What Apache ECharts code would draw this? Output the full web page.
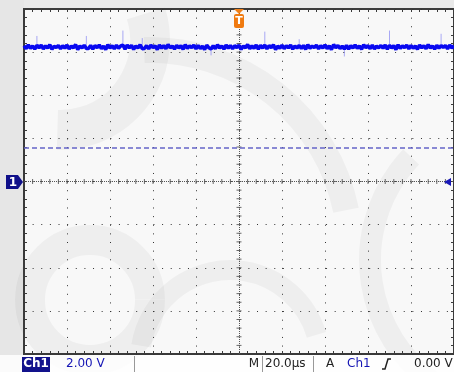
<!DOCTYPE html>
<html><head><meta charset="utf-8">
<script src="https://cdn.jsdelivr.net/npm/echarts@6/dist/echarts.min.js"></script>
<style>html,body{margin:0;padding:0;background:#f8f8f8;}#c{width:454px;height:372px;}</style>
</head><body><div id="c"></div>
<script>
// ---- data ----
const sampleStartUs = -100;
const sampleStepUs = 1;
const ch1Volts = [
6.30,6.16,6.33,6.18,6.28,6.14,6.32,6.20,6.32,6.15,
6.29,6.19,6.34,6.13,6.27,6.21,6.31,6.16,6.30,6.18,
6.33,6.15,6.28,6.20,6.35,6.12,6.29,6.19,6.32,6.17,
6.17,6.31,6.14,6.30,6.21,6.33,6.16,6.28,6.12,6.34,
6.19,6.30,6.15,6.32,6.18,6.29,6.33,6.14,6.33,6.20,
6.31,6.13,6.28,6.19,6.34,6.16,6.17,6.30,6.15,6.32,
6.21,6.29,6.12,6.33,6.18,6.31,6.16,6.35,6.20,6.28,
6.14,6.32,6.19,6.30,6.13,6.34,6.18,6.29,6.21,6.33,
6.15,6.31,6.17,6.28,6.12,6.32,6.20,6.14,6.30,6.16,
6.34,6.19,6.29,6.14,6.33,6.18,6.31,6.15,6.30,6.21,
6.32,6.13,6.28,6.20,6.35,6.16,6.29,6.18,6.33,6.14,
6.31,6.19,6.33,6.15,6.30,6.21,6.34,6.12,6.28,6.18,
6.32,6.16,6.30,6.20,6.33,6.14,6.29,6.19,6.31,6.17,
6.31,6.13,6.34,6.18,6.28,6.21,6.32,6.15,6.30,6.19,
6.33,6.16,6.29,6.12,6.35,6.20,6.31,6.17,6.28,6.14,
6.32,6.14,6.30,6.19,6.33,6.18,6.29,6.13,6.34,6.21,
6.30,6.16,6.32,6.15,6.28,6.20,6.31,6.18,6.33,6.14,
6.32,6.19,6.30,6.12,6.34,6.17,6.29,6.21,6.32,6.15,
6.31,6.18,6.28,6.13,6.33,6.20,6.30,6.16,6.35,6.19,
6.29,6.14,6.32,6.18,6.31,6.21,6.31,6.15,6.33,6.19,
6.30
];
// isolated glitches seen on the trace: time (µs) and peak volts
const glitchTimesUs = [-94, -71, -54, -45, -13, 12, 28, 49, 70, 94];
const glitchPeaksV  = [6.75, 6.75, 7.00, 6.65, 5.85, 6.95, 6.60, 5.80, 7.00, 6.85];
const timeRangeUs = [-100, 100];
const timePerDivUs = 20;
const voltRange = [-8, 8];
const voltsPerDiv = 2;
const cursorLevelV = 1.56;
const triggerLevelV = 0;
const statusTexts = ['Ch1', '2.00 V', 'M', '20.0µs', 'A', 'Ch1', '0.00 V'];

// ---- build ----
const trace = ch1Volts.map((v, i) => [sampleStartUs + i * sampleStepUs, v]);
const glitches = [];
glitchTimesUs.forEach((t, i) => {
  const base = ch1Volts[Math.round((t - sampleStartUs) / sampleStepUs)];
  glitches.push([t, base], [t, glitchPeaksV[i]], null);
});
const minorX = [], minorY = [];
for (let t = timeRangeUs[0]; t <= timeRangeUs[1] + 1e-9; t += timePerDivUs / 5) minorX.push([t, 0]);
for (let v = voltRange[0]; v <= voltRange[1] + 1e-9; v += voltsPerDiv / 5) minorY.push([0, v]);

const FONT = 'DejaVu Sans';
const gridDash = [1, 7.63];
function xAx(pos, split) {
  return {type:'value', min:timeRangeUs[0], max:timeRangeUs[1], interval:timePerDivUs, position:pos,
    axisLine:{show:false, onZero:false}, axisLabel:{show:false},
    axisTick:{show:true, inside:true, length:3, lineStyle:{color:'#3a3a3a'}},
    minorTick:{show:true, splitNumber:5, length:3, lineStyle:{color:'#3a3a3a'}},
    splitLine:{show:split, lineStyle:{color:'#333', width:1, type:gridDash}}};
}
function yAx(pos, split) {
  return {type:'value', min:voltRange[0], max:voltRange[1], interval:voltsPerDiv, position:pos,
    axisLine:{show:false, onZero:false}, axisLabel:{show:false},
    axisTick:{show:true, inside:true, length:3, lineStyle:{color:'#3a3a3a'}},
    minorTick:{show:true, splitNumber:5, length:3, lineStyle:{color:'#3a3a3a'}},
    splitLine:{show:split, lineStyle:{color:'#333', width:1, type:gridDash}}};
}
const chart = echarts.init(document.getElementById('c'), null, {renderer:'canvas'});
chart.setOption({
  animation:false,
  backgroundColor:'transparent',
  grid:{left:24, top:9, width:431, height:345, show:true, borderColor:'#3a3a3a', borderWidth:2, backgroundColor:'transparent'},
  xAxis:[xAx('bottom', true), xAx('top', false)],
  yAxis:[yAx('left', true), yAx('right', false)],
  series:[
    {type:'scatter', data:minorX, symbol:'rect', symbolSize:[1,5], itemStyle:{color:'#444'}, silent:true, z:2,
      markLine:{silent:true, symbol:'none', label:{show:false},
        lineStyle:{color:'#555', type:[1,1], width:1},
        data:[{xAxis:0}, {yAxis:0}]}},
    {type:'scatter', data:minorY, symbol:'rect', symbolSize:[5,1], itemStyle:{color:'#444'}, silent:true, z:2,
      markLine:{silent:true, symbol:'none', label:{show:false},
        lineStyle:{color:'#6464c8', type:[5,3], width:1.5},
        data:[{yAxis:cursorLevelV}]}},
    {type:'line', data:glitches, showSymbol:false, z:4, connectNulls:false,
      lineStyle:{color:'rgba(70,70,240,0.45)', width:1}},
    {type:'line', data:trace, showSymbol:false, z:5,
      lineStyle:{color:'#0808f0', width:3.5}}
  ]
});

// ---- decorations ----
const pT = chart.convertToPixel({gridIndex:0}, [0, voltRange[1]]);
const pG = chart.convertToPixel({gridIndex:0}, [timeRangeUs[0], triggerLevelV]);
const tx = Math.round(pT[0]), ty = Math.round(pT[1]);
const gy = Math.round(pG[1]);
const txtY = 364;
const wm = {stroke:'rgba(0,0,0,0.04)', fill:null, shadowBlur:18, shadowColor:'rgba(0,0,0,0.04)'};
const graphics = [
  // faint watermark swirls
  {type:'rect', shape:{x:0, y:0, width:24, height:372}, style:{fill:'rgba(0,0,0,0.07)'}, z:-11, silent:true},
  {type:'rect', shape:{x:24, y:0, width:430, height:9}, style:{fill:'rgba(0,0,0,0.06)'}, z:-11, silent:true},
  {type:'arc', shape:{cx:150, cy:250, r:200, startAngle:-1.6, endAngle:-0.2}, style:Object.assign({lineWidth:26}, wm), z:-10, silent:true},
  {type:'arc', shape:{cx:520, cy:260, r:150, startAngle:2.2, endAngle:3.9}, style:Object.assign({lineWidth:22}, wm), z:-10, silent:true},
  {type:'arc', shape:{cx:60, cy:40, r:90, startAngle:-0.3, endAngle:1.6}, style:Object.assign({lineWidth:40}, wm), z:-10, silent:true},
  {type:'arc', shape:{cx:230, cy:360, r:90, startAngle:3.3, endAngle:6.0}, style:Object.assign({lineWidth:20}, wm), z:-10, silent:true},
  {type:'arc', shape:{cx:90, cy:300, r:60, startAngle:0, endAngle:6.28}, style:Object.assign({lineWidth:30}, wm), z:-10, silent:true},
  // trigger position marker
  {type:'polygon', shape:{points:[[tx-5,ty],[tx+5,ty],[tx,ty+5]]}, style:{fill:'#f08018'}, z:20},
  {type:'rect', shape:{x:tx-5, y:ty+5, width:10, height:14, r:2}, style:{fill:'#f07a10'}, z:20},
  {type:'text', x:tx, y:ty+12, style:{text:'T', fill:'#fff', font:'bold 11px '+FONT, align:'center', verticalAlign:'middle'}, z:21},
  // ground marker
  {type:'polygon', shape:{points:[[6,gy-7],[18,gy-7],[23,gy],[18,gy+7],[6,gy+7]]}, style:{fill:'#10108a'}, z:20},
  {type:'text', x:13, y:gy+1, style:{text:'1', fill:'#fff', font:'bold 12px '+FONT, align:'center', verticalAlign:'middle'}, z:21},
  // trigger level marker
  {type:'polygon', shape:{points:[[444,gy],[451,gy-4],[451,gy+4]]}, style:{fill:'#1818b8'}, z:20},
  // status bar
  {type:'rect', shape:{x:0, y:355, width:454, height:17}, style:{fill:'rgba(255,255,255,0.8)'}, z:10},
  {type:'rect', shape:{x:22, y:357, width:28, height:15}, style:{fill:'#12128c'}, z:11},
  {type:'text', x:36, y:txtY, style:{text:statusTexts[0], fill:'#fff', font:'bold 12px '+FONT, align:'center', verticalAlign:'middle'}, z:12},
  {type:'text', x:66, y:txtY, style:{text:statusTexts[1], fill:'#1414b4', font:'12px '+FONT, verticalAlign:'middle'}, z:12},
  {type:'line', shape:{x1:134.5, y1:356, x2:134.5, y2:372}, style:{stroke:'#999', lineWidth:1}, z:12},
  {type:'text', x:259, y:txtY, style:{text:statusTexts[2], fill:'#222', font:'12px '+FONT, align:'right', verticalAlign:'middle'}, z:12},
  {type:'line', shape:{x1:262.5, y1:356, x2:262.5, y2:372}, style:{stroke:'#999', lineWidth:1}, z:12},
  {type:'text', x:265, y:txtY, style:{text:statusTexts[3], fill:'#222', font:'12px '+FONT, verticalAlign:'middle'}, z:12},
  {type:'line', shape:{x1:313.5, y1:356, x2:313.5, y2:372}, style:{stroke:'#999', lineWidth:1}, z:12},
  {type:'text', x:330, y:txtY, style:{text:statusTexts[4], fill:'#222', font:'12px '+FONT, align:'center', verticalAlign:'middle'}, z:12},
  {type:'text', x:347, y:txtY, style:{text:statusTexts[5], fill:'#1414b4', font:'12px '+FONT, verticalAlign:'middle'}, z:12},
  {type:'polyline', shape:{points:[[382,369],[385,369],[388,359],[391,359]]}, style:{stroke:'#222', lineWidth:1.5, fill:null}, z:12},
  {type:'text', x:414, y:txtY, style:{text:statusTexts[6], fill:'#222', font:'12px '+FONT, verticalAlign:'middle'}, z:12}
];
chart.setOption({graphic:graphics});
</script>
</body></html>
